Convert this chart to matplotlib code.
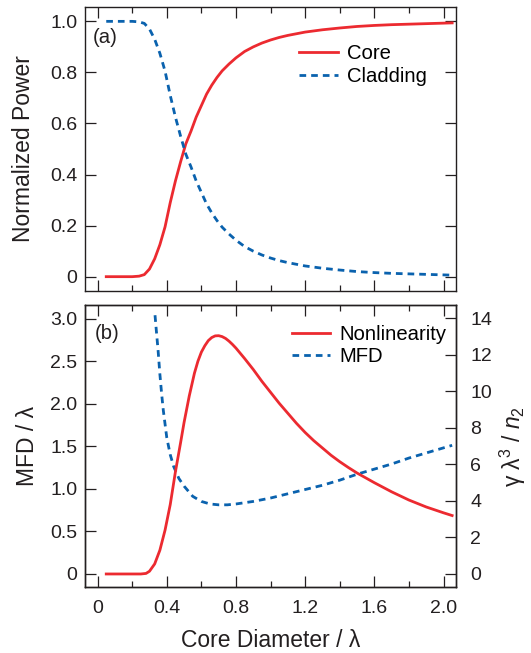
import matplotlib
matplotlib.use("Agg")
import matplotlib.pyplot as plt
from matplotlib.ticker import MultipleLocator, FuncFormatter

plt.rcParams['font.family'] = ['Liberation Sans', 'DejaVu Sans']
plt.rcParams['mathtext.fontset'] = 'custom'
plt.rcParams['mathtext.rm'] = 'Liberation Sans'
plt.rcParams['mathtext.it'] = 'Liberation Sans:italic'

RED = '#ec2a30'
BLUE = '#0a62ae'
INK = '#231f20'

# (a) power fraction in core / cladding vs core diameter
d_power = [0.05, 0.10, 0.15, 0.20, 0.24, 0.27, 0.30, 0.33, 0.36, 0.39, 0.42, 0.45,
           0.48, 0.51, 0.54, 0.57, 0.60, 0.63, 0.66, 0.69, 0.72, 0.76, 0.80, 0.85,
           0.90, 0.95, 1.00, 1.05, 1.10, 1.20, 1.30, 1.40, 1.50, 1.60, 1.70, 1.80,
           1.90, 2.00, 2.05]
p_core = [0.0, 0.0, 0.0, 0.0, 0.002, 0.008, 0.03, 0.07, 0.125, 0.195, 0.29, 0.375,
          0.45, 0.52, 0.57, 0.625, 0.67, 0.715, 0.75, 0.78, 0.806, 0.833, 0.857, 0.882,
          0.90, 0.915, 0.927, 0.937, 0.945, 0.958, 0.967, 0.974, 0.980, 0.984, 0.987, 0.989,
          0.991, 0.993, 0.994]
p_clad = [1.0, 1.0, 1.0, 1.0, 0.998, 0.992, 0.97, 0.93, 0.875, 0.805, 0.71, 0.625,
          0.55, 0.48, 0.43, 0.375, 0.33, 0.285, 0.25, 0.22, 0.194, 0.167, 0.143, 0.118,
          0.10, 0.085, 0.073, 0.063, 0.055, 0.042, 0.033, 0.026, 0.020, 0.016, 0.013, 0.011,
          0.009, 0.007, 0.006]

# (b) nonlinearity (right axis) and mode field diameter (left axis)
d_nl = [0.05, 0.10, 0.15, 0.20, 0.25, 0.28, 0.30, 0.33, 0.36, 0.39, 0.42, 0.45,
        0.48, 0.50, 0.53, 0.56, 0.58, 0.60, 0.62, 0.64, 0.66, 0.68, 0.70, 0.72,
        0.74, 0.76, 0.78, 0.80, 0.85, 0.90, 0.95, 1.00, 1.05, 1.10, 1.15, 1.20,
        1.25, 1.30, 1.35, 1.40, 1.45, 1.50, 1.60, 1.70, 1.80, 1.90, 2.00, 2.05]
gamma_nl = [0.0, 0.0, 0.0, 0.0, 0.0, 0.03, 0.15, 0.55, 1.3, 2.4, 3.8, 5.6,
            7.2, 8.3, 9.75, 11.0, 11.65, 12.15, 12.5, 12.78, 12.95, 13.04, 13.05, 13.0,
            12.9, 12.75, 12.57, 12.37, 11.8, 11.2, 10.55, 9.95, 9.35, 8.8, 8.25, 7.75,
            7.3, 6.9, 6.5, 6.15, 5.83, 5.53, 5.0, 4.5, 4.05, 3.67, 3.35, 3.2]

d_mfd = [0.332, 0.34, 0.35, 0.36, 0.37, 0.38, 0.40, 0.42, 0.44, 0.47, 0.50, 0.55,
         0.60, 0.65, 0.70, 0.75, 0.80, 0.90, 1.00, 1.10, 1.20, 1.30, 1.40, 1.50,
         1.60, 1.70, 1.80, 1.90, 2.00, 2.05]
mfd = [3.04, 2.85, 2.62, 2.35, 2.12, 1.92, 1.60, 1.40, 1.26, 1.12, 1.03, 0.91,
       0.85, 0.82, 0.81, 0.81, 0.82, 0.85, 0.89, 0.94, 0.99, 1.04, 1.10, 1.17,
       1.23, 1.29, 1.36, 1.42, 1.48, 1.51]

x_major = 0.4
x_minor = 0.2

fig = plt.figure(figsize=(5.31, 6.53), dpi=100)
ax1 = fig.add_axes([0.161, 0.5548, 0.698, 0.434])
ax2 = fig.add_axes([0.161, 0.1006, 0.698, 0.4323])
ax2r = ax2.twinx()

lw = 2.0
dash = (2.4, 1.8)
fs_tick = 14
fs_label = 16.5
fs_legend = 14.6


def style(ax):
    for s in ax.spines.values():
        s.set_linewidth(1.0)
        s.set_color(INK)
    ax.tick_params(which='both', direction='in', color=INK, width=0.9,
                   labelsize=fs_tick, labelcolor=INK)
    ax.tick_params(which='major', length=8)
    ax.tick_params(which='minor', length=4)


def num(v, pos):
    return '0' if abs(v) < 1e-9 else '%.1f' % v


# panel (a)
ax1.plot(d_power, p_core, color=RED, lw=lw, label='Core')
ax1.plot(d_power, p_clad, color=BLUE, lw=lw, dashes=dash, label='Cladding')
ax1.set_xlim(-0.07, 2.073)
ax1.set_ylim(-0.055, 1.055)
ax1.xaxis.set_major_locator(MultipleLocator(x_major))
ax1.xaxis.set_minor_locator(MultipleLocator(x_minor))
ax1.yaxis.set_major_locator(MultipleLocator(0.2))
ax1.yaxis.set_major_formatter(FuncFormatter(num))
style(ax1)
ax1.tick_params(which='both', top=True, right=True, labelbottom=False, pad=6)
ax1.set_ylabel('Normalized Power', fontsize=fs_label, color=INK)
ax1.yaxis.set_label_coords(-0.135, 0.5)
ax1.text(0.02, 0.892, '(a)', transform=ax1.transAxes, fontsize=fs_legend, color=INK,
         va='center', ha='left')
ax1.legend(loc='upper left', bbox_to_anchor=(0.576, 0.87), frameon=False,
           fontsize=fs_legend, borderpad=0, borderaxespad=0, handlelength=1.9,
           handletextpad=0.45, labelspacing=0.18)

# panel (b)
ln_nl, = ax2r.plot(d_nl, gamma_nl, color=RED, lw=lw, label='Nonlinearity')
ln_mfd, = ax2.plot(d_mfd, mfd, color=BLUE, lw=lw, dashes=dash, label='MFD')
ax2.set_xlim(-0.07, 2.073)
ax2.set_ylim(-0.16, 3.16)
ax2r.set_ylim(-0.73, 14.73)
ax2.xaxis.set_major_locator(MultipleLocator(x_major))
ax2.xaxis.set_minor_locator(MultipleLocator(x_minor))
ax2.xaxis.set_major_formatter(FuncFormatter(num))
ax2.yaxis.set_major_locator(MultipleLocator(0.5))
ax2.yaxis.set_major_formatter(FuncFormatter(num))
ax2r.yaxis.set_major_locator(MultipleLocator(2))
style(ax2)
style(ax2r)
ax2.tick_params(which='both', top=True, right=False)
ax2.tick_params(axis='y', pad=6)
ax2.tick_params(axis='x', pad=9)
ax2r.tick_params(axis='y', pad=10)
ax2.set_ylabel('MFD / λ', fontsize=fs_label, color=INK)
ax2.yaxis.set_label_coords(-0.125, 0.5)
ax2r.set_ylabel('γ λ$^3$ / $n_2$', fontsize=fs_label, color=INK)
ax2r.yaxis.set_label_coords(1.112, 0.5)
ax2.set_xlabel('Core Diameter / λ', fontsize=fs_label, color=INK)
ax2.xaxis.set_label_coords(0.5, -0.148)
ax2.text(0.025, 0.90, '(b)', transform=ax2.transAxes, fontsize=fs_legend, color=INK,
         va='center', ha='left')
ax2r.legend([ln_nl, ln_mfd], ['Nonlinearity', 'MFD'], loc='upper left',
            bbox_to_anchor=(0.557, 0.93), frameon=False, fontsize=fs_legend,
            borderpad=0, borderaxespad=0, handlelength=1.9,
            handletextpad=0.45, labelspacing=0.18)

fig.savefig('out.png', dpi=100)
